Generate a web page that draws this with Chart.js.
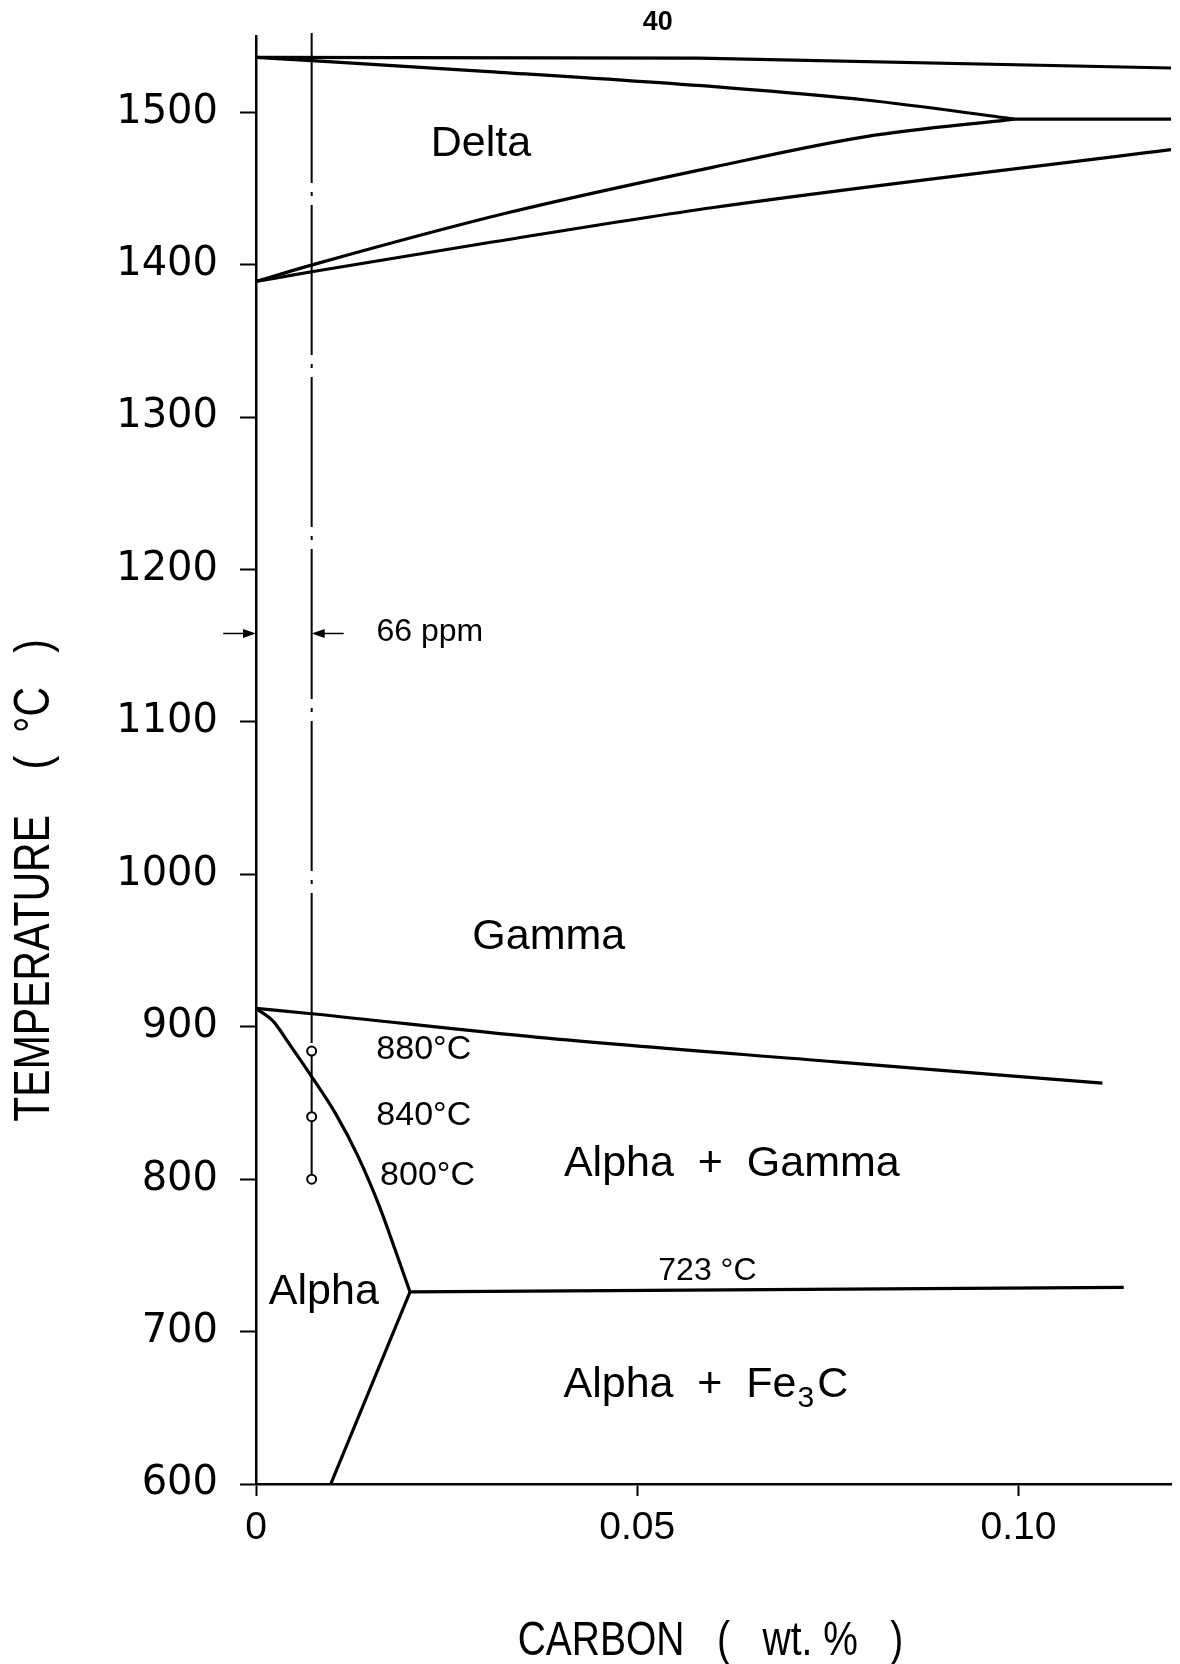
<!DOCTYPE html>
<html>
<head>
<meta charset="utf-8">
<script src="https://cdn.jsdelivr.net/npm/chart.js@4.4.1/dist/chart.umd.min.js"></script>
<style>
  html, body { margin: 0; padding: 0; background: #fff; }
  canvas { display: block; }
</style>
</head>
<body>
<canvas id="chart" width="1180" height="1664"></canvas>
<script>
// Fe-C corner: carbon (wt.%) against temperature (°C)
const topX = [0, 0.058, 0.12];
const topT = [1536, 1535.5, 1529];

const deltaSolidusX = [0, 0.03, 0.062, 0.08, 0.0995];
const deltaSolidusT = [1536, 1526.8, 1516, 1508, 1495.5];

const peritecticX = [0.0995, 0.12];
const peritecticT = [1495.5, 1495.5];

const deltaUpperX = [0, 0.0075, 0.033, 0.06, 0.08, 0.0995];
const deltaUpperT = [1389, 1400, 1434, 1464, 1484, 1495.5];

const gammaLowerX = [0, 0.0075, 0.03, 0.06, 0.12];
const gammaLowerT = [1389, 1395.5, 1414, 1437.5, 1475.5];

const a3X = [0, 0.0073, 0.037, 0.076, 0.111];
const a3T = [912, 908.5, 893, 877, 863];

const alphaX = [0, 0.0023, 0.0043, 0.0073, 0.0104, 0.0134, 0.0162, 0.0184, 0.0202];
const alphaT = [912, 903.4, 889.2, 867.3, 843.3, 814.8, 782, 751.5, 726];

const eutectoidX = [0.0202, 0.1138];
const eutectoidT = [726, 729];

const solvusX = [0.0202, 0.0098];
const solvusT = [726, 600];

// 66 ppm sample line and the annealing temperatures on it
const sampleX = [0.0073, 0.0073];
const sampleT = [1552, 884];
const annealX = [0.0073, 0.0073, 0.0073];
const annealT = [884, 841, 800];

const arrowFromX = [-0.0043, 0.0115];
const arrowToX = [0, 0.0073];
const arrowT = [1158, 1158];

const xTicks = [0, 0.05, 0.10];
const xTickLabels = ['0', '0.05', '0.10'];
const yTicks = [600, 700, 800, 900, 1000, 1100, 1200, 1300, 1400, 1500];

const pts = (xs, ts) => xs.map((v, i) => ({ x: v, y: ts[i] }));

const lineSet = (xs, ts, extra) => Object.assign({
    data: pts(xs, ts),
    showLine: true,
    borderColor: '#000',
    borderWidth: 3.2,
    pointRadius: 0,
    tension: 0,
    fill: false
}, extra || {});

const curve = { cubicInterpolationMode: 'monotone' };

// text placed in data units
const regionLabels = [
    { text: 'Delta', x: 0.0295, t: 1479, size: 43 },
    { text: 'Gamma', x: 0.0384, t: 959, size: 43 },
    { text: 'Alpha  +  Gamma', x: 0.0624, t: 810, size: 43 },
    { text: 'Alpha', x: 0.0089, t: 725.6, size: 43 },
    { text: '66 ppm', x: 0.0228, t: 1159, size: 32 },
    { text: '880°C', x: 0.022, t: 885, size: 34 },
    { text: '840°C', x: 0.022, t: 842, size: 34 },
    { text: '800°C', x: 0.0225, t: 802, size: 34 },
    { text: '723 °C', x: 0.0592, t: 739.6, size: 32 },
    { text: '40', x: 0.0527, t: 1558.7, size: 27, bold: true }
];

const overlay = {
    id: 'overlay',
    afterDatasetsDraw(chart) {
        const { ctx, chartArea, scales: { x, y } } = chart;
        const font = (s, b) => `${b ? 'bold ' : ''}${s}px "Liberation Sans", Arial, sans-serif`;
        ctx.save();
        ctx.fillStyle = '#000';
        ctx.strokeStyle = '#000';
        ctx.textAlign = 'center';
        ctx.textBaseline = 'middle';

        regionLabels.forEach(l => {
            ctx.font = font(l.size, l.bold);
            ctx.fillText(l.text, x.getPixelForValue(l.x), y.getPixelForValue(l.t));
        });

        // Alpha + Fe3C with subscript
        const cx = x.getPixelForValue(0.059), cy = y.getPixelForValue(665);
        ctx.font = font(43);
        const a = 'Alpha  +  Fe', c = 'C';
        const wa = ctx.measureText(a).width, wc = ctx.measureText(c).width;
        ctx.font = font(30);
        const w3 = ctx.measureText('3').width;
        let left = cx - (wa + w3 + wc + 4) / 2;
        ctx.textAlign = 'left';
        ctx.font = font(43);
        ctx.fillText(a, left, cy);
        ctx.font = font(30);
        ctx.fillText('3', left + wa + 1, cy + 14);
        ctx.font = font(43);
        ctx.fillText(c, left + wa + w3 + 4, cy);

        // arrows pointing at the 66 ppm gap
        ctx.lineWidth = 1.5;
        arrowT.forEach((t, i) => {
            const x0 = x.getPixelForValue(arrowFromX[i]);
            const x1 = x.getPixelForValue(arrowToX[i]);
            const py = y.getPixelForValue(t);
            const dir = Math.sign(x1 - x0);
            ctx.beginPath();
            ctx.moveTo(x0, py);
            ctx.lineTo(x1 - dir * 10, py);
            ctx.stroke();
            ctx.beginPath();
            ctx.moveTo(x1, py);
            ctx.lineTo(x1 - dir * 13, py - 4.5);
            ctx.lineTo(x1 - dir * 13, py + 4.5);
            ctx.closePath();
            ctx.fill();
        });

        // axis titles, lettered tall and narrow like the original
        ctx.textAlign = 'center';
        ctx.save();
        ctx.translate((chartArea.left + chartArea.right) / 2 - 3, chartArea.bottom + 158);
        ctx.scale(1, 1.25);
        ctx.font = font(39);
        ctx.fillText('CARBON   (   wt. %   )', 0, 0);
        ctx.restore();

        ctx.save();
        ctx.translate(35, y.getPixelForValue(996));
        ctx.rotate(-Math.PI / 2);
        ctx.scale(1, 1.2);
        ctx.font = font(41);
        ctx.fillText('TEMPERATURE    (  °C   )', 0, 0);
        ctx.restore();
        ctx.restore();
    }
};

new Chart(document.getElementById('chart'), {
    type: 'scatter',
    data: {
        datasets: [
            lineSet(topX, topT),
            lineSet(deltaSolidusX, deltaSolidusT, curve),
            lineSet(peritecticX, peritecticT),
            lineSet(deltaUpperX, deltaUpperT, curve),
            lineSet(gammaLowerX, gammaLowerT, curve),
            lineSet(a3X, a3T, curve),
            lineSet(alphaX, alphaT, curve),
            lineSet(eutectoidX, eutectoidT),
            lineSet(solvusX, solvusT),
            lineSet(sampleX, sampleT, { borderWidth: 2, borderDash: [150, 9, 4, 9], clip: false }),
            lineSet(annealX, annealT, {
                borderWidth: 2,
                pointRadius: 4.5,
                pointBackgroundColor: '#fff',
                pointBorderColor: '#000',
                pointBorderWidth: 2
            })
        ]
    },
    options: {
        responsive: false,
        devicePixelRatio: 1,
        animation: false,
        layout: { padding: { top: 36, right: 9, left: 0, bottom: 0 } },
        plugins: { legend: { display: false }, tooltip: { enabled: false } },
        scales: {
            x: {
                type: 'linear',
                min: 0,
                max: 0.12,
                afterBuildTicks: s => { s.ticks = xTicks.map(v => ({ value: v })); },
                afterFit: s => { s.height = 180; s.paddingLeft = 0; s.paddingRight = 0; },
                border: { display: true, color: '#000', width: 2.5 },
                grid: { drawOnChartArea: false, drawTicks: true, tickLength: 12, tickColor: '#000', tickWidth: 2 },
                ticks: {
                    autoSkip: false,
                    maxRotation: 0,
                    padding: 9,
                    color: '#000',
                    font: { family: '"Liberation Sans", Arial, sans-serif', size: 39 },
                    callback: (v, i) => xTickLabels[i]
                }
            },
            y: {
                type: 'linear',
                min: 600,
                max: 1550,
                afterBuildTicks: s => { s.ticks = yTicks.map(v => ({ value: v })); },
                afterFit: s => { s.width = 256; s.paddingTop = 0; s.paddingBottom = 0; },
                border: { display: true, color: '#000', width: 2.5 },
                grid: { drawOnChartArea: false, drawTicks: true, tickLength: 16, tickColor: '#000', tickWidth: 2 },
                ticks: {
                    padding: 22,
                    color: '#000',
                    font: { family: '"DejaVu Sans", sans-serif', size: 40 },
                    callback: v => String(v)
                }
            }
        }
    },
    plugins: [overlay]
});
</script>
</body>
</html>
